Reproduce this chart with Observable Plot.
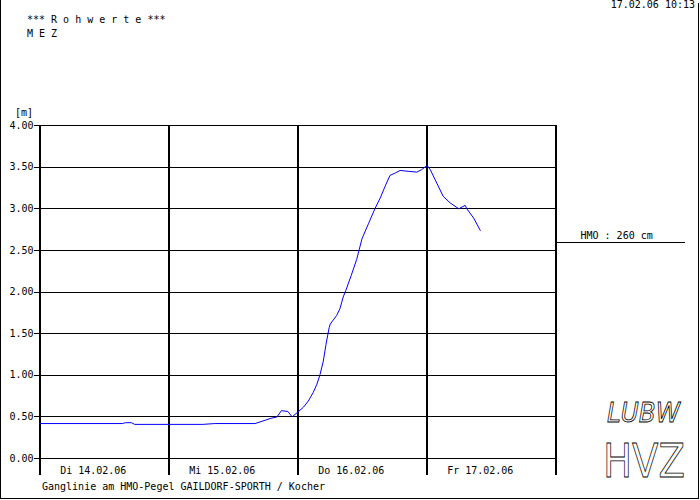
<!DOCTYPE html>
<html><head><meta charset="utf-8">
<script src="https://cdn.jsdelivr.net/npm/d3@7"></script>
<script src="https://cdn.jsdelivr.net/npm/@observablehq/plot@0.6"></script>
<style>
body{margin:0;background:#fff;}
#chart{width:700px;height:500px;}
</style></head><body><div id="chart"></div>
<script>
// hours since Di 14.02.06 00:00 MEZ
const hours = [0, 15.4, 16.0, 17.1, 17.7, 30.4, 32.6, 40.1, 42.0, 42.9, 44.2, 45.0, 46.2, 47.0, 48.1, 49.1, 50.0, 50.9, 51.6, 52.2, 52.8, 53.3, 53.9, 54.1, 55.3, 55.9, 56.5, 57.0, 58.0, 59.0, 60.0, 61.2, 62.4, 63.4, 64.3, 65.2, 66.2, 67.1, 68.6, 70.2, 71.1, 72.1, 72.7, 73.6, 75.1, 76.4, 78.0, 79.2, 79.5, 80.8, 82.0];
// water level [m]
const levels = [0.42, 0.42, 0.43, 0.43, 0.41, 0.41, 0.42, 0.42, 0.46, 0.48, 0.50, 0.575, 0.565, 0.50, 0.56, 0.616, 0.69, 0.79, 0.89, 1.01, 1.17, 1.37, 1.575, 1.615, 1.72, 1.80, 1.94, 2.02, 2.20, 2.39, 2.64, 2.82, 3.00, 3.13, 3.27, 3.40, 3.43, 3.46, 3.45, 3.44, 3.47, 3.52, 3.47, 3.35, 3.15, 3.07, 3.00, 3.04, 3.00, 2.885, 2.74];
const dayLabels = ["Di 14.02.06", "Mi 15.02.06", "Do 16.02.06", "Fr 17.02.06"];
const dayStarts = [0, 24, 48, 72, 96];
const yTicks = [0, 0.5, 1, 1.5, 2, 2.5, 3, 3.5, 4];
const hmoLevel = 2.60;
const hmoLabel = "HMO : 260 cm";
const header1 = "*** R o h w e r t e ***";
const header2 = "M E Z";
const stamp = "17.02.06 10:13";
const unitLabel = "[m]";
const caption = "Ganglinie am HMO-Pegel GAILDORF-SPORTH / Kocher";

const data = hours.map((h, i) => ({h, m: levels[i]}));
const yMin = -0.204;

const plot = Plot.plot({
  width: 700, height: 500,
  marginLeft: 39, marginRight: 145, marginTop: 125, marginBottom: 25,
  x: {domain: [0, 96], axis: null},
  y: {domain: [yMin, 4]},
  style: {fontFamily: "'DejaVu Sans Mono', monospace", fontSize: "10px", background: "white", color: "black", overflow: "visible"},
  marks: [
    Plot.ruleY(yTicks, {x1: 0, x2: 96, stroke: "black", strokeWidth: 1, shapeRendering: "crispEdges"}),
    Plot.axisY(yTicks, {tickSize: 5, tickPadding: 1, tickFormat: d => d.toFixed(2), label: null, shapeRendering: "crispEdges"}),
    Plot.ruleX(dayStarts, {y1: yMin, y2: 4, stroke: "black", strokeWidth: 2, shapeRendering: "crispEdges"}),
    Plot.line(data, {x: "h", y: "m", stroke: "#0000ff", strokeWidth: 1}),
    Plot.text(dayLabels, {x: (d, i) => dayStarts[i] + 10, y: 0, dy: 12.5, text: d => d, textAnchor: "middle"}),
    Plot.ruleY([hmoLevel], {x1: 96, x2: 120.2, stroke: "black", strokeWidth: 1, shapeRendering: "crispEdges"}),
    Plot.text([hmoLabel], {x: 100.65, y: hmoLevel, dy: -6.6, textAnchor: "start", text: d => d})
  ]
});
document.getElementById("chart").appendChild(plot);

const svg = d3.select(plot);
const g = svg.append("g").attr("font-family", "'DejaVu Sans Mono', monospace").attr("font-size", 10)
  .attr("fill", "black").attr("text-anchor", "start");
g.append("text").attr("x", 27).attr("y", 23).text(header1);
g.append("text").attr("x", 27).attr("y", 37).text(header2);
g.append("text").attr("x", 695).attr("y", 8).attr("text-anchor", "end").text(stamp);
g.append("text").attr("x", 15).attr("y", 115.5).text(unitLabel);
g.append("text").attr("x", 42).attr("y", 490).text(caption);

const b = svg.append("g").attr("stroke", "black").attr("stroke-width", 1).attr("shape-rendering", "crispEdges");
b.append("line").attr("x1", 0.5).attr("x2", 0.5).attr("y1", 0).attr("y2", 499);
b.append("line").attr("x1", 698.5).attr("x2", 698.5).attr("y1", 3).attr("y2", 499);
b.append("line").attr("x1", 0).attr("x2", 699).attr("y1", 498.5).attr("y2", 498.5);

const logo = svg.append("g").attr("fill", "white").attr("stroke", "black").attr("stroke-width", 0.8)
  .attr("text-anchor", "start");
logo.append("text").attr("x", 607).attr("y", 422).attr("font-family", "'DejaVu Sans', sans-serif")
  .attr("font-style", "italic").attr("font-size", 26)
  .attr("textLength", 73).attr("lengthAdjust", "spacingAndGlyphs").text("LUBW");
logo.append("text").attr("x", 603).attr("y", 477).attr("font-family", "'DejaVu Sans', sans-serif")
  .attr("font-size", 46)
  .attr("textLength", 82).attr("lengthAdjust", "spacingAndGlyphs").text("HVZ");
</script></body></html>
